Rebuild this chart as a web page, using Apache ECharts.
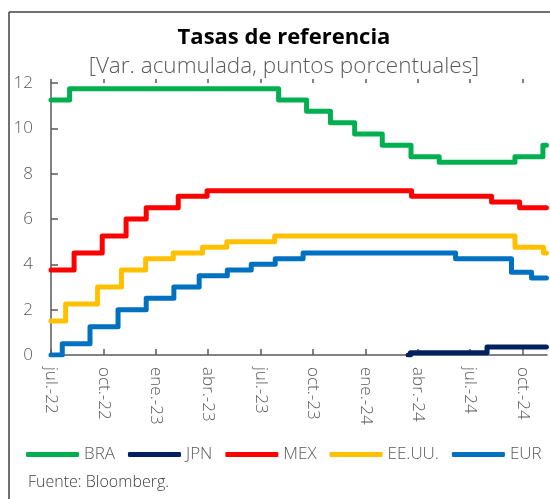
<!DOCTYPE html>
<html lang="es">
<head>
<meta charset="UTF-8">
<title>Tasas de referencia</title>
<script src="https://cdn.jsdelivr.net/npm/echarts@6/dist/echarts.min.js"></script>
<style>
  html, body { margin: 0; padding: 0; background: #fff; }
  #main { width: 550px; height: 499px; }
</style>
</head>
<body>
<div id="main"></div>
<script>
// fechas de cambio de tasa y variación acumulada (pp) desde esa fecha
const braDates = ['2022-07-01', '2022-08-03', '2023-08-02', '2023-09-20', '2023-11-01', '2023-12-13', '2024-01-31', '2024-03-20', '2024-05-08', '2024-09-18', '2024-11-06', '2024-11-12'];
const braValues = [11.25, 11.75, 11.25, 10.75, 10.25, 9.75, 9.25, 8.75, 8.5, 8.75, 9.25, 9.25];

const jpnDates = ['2024-03-15', '2024-03-19', '2024-07-31', '2024-11-12'];
const jpnValues = [0, 0.1, 0.35, 0.35];

const mexDates = ['2022-07-01', '2022-08-11', '2022-09-29', '2022-11-10', '2022-12-15', '2023-02-09', '2023-03-30', '2024-03-21', '2024-08-08', '2024-09-26', '2024-11-12'];
const mexValues = [3.75, 4.5, 5.25, 6.0, 6.5, 7.0, 7.25, 7.0, 6.75, 6.5, 6.5];

const usaDates = ['2022-07-01', '2022-07-27', '2022-09-21', '2022-11-02', '2022-12-14', '2023-02-01', '2023-03-22', '2023-05-03', '2023-07-26', '2024-09-18', '2024-11-07', '2024-11-12'];
const usaValues = [1.5, 2.25, 3.0, 3.75, 4.25, 4.5, 4.75, 5.0, 5.25, 4.75, 4.5, 4.5];

const eurDates = ['2022-07-01', '2022-07-21', '2022-09-08', '2022-10-27', '2022-12-15', '2023-02-02', '2023-03-16', '2023-05-04', '2023-06-15', '2023-07-27', '2023-09-14', '2024-06-06', '2024-09-12', '2024-10-17', '2024-11-12'];
const eurValues = [0, 0.5, 1.25, 2.0, 2.5, 3.0, 3.5, 3.75, 4.0, 4.25, 4.5, 4.25, 3.65, 3.4, 3.4];

const tickMonths = [0, 3, 6, 9, 12, 15, 18, 21, 24, 27];
const tickLabels = ['jul.-22', 'oct.-22', 'ene.-23', 'abr.-23', 'jul.-23', 'oct.-23', 'ene.-24', 'abr.-24', 'jul.-24', 'oct.-24'];

// meses transcurridos desde jul-22
function toMonth(d) {
  const [y, m, day] = d.split('-').map(Number);
  const dim = new Date(y, m, 0).getDate();
  return (y - 2022) * 12 + (m - 7) + (day - 1) / dim;
}
function pairs(dates, values) {
  return dates.map((d, i) => [toMonth(d), values[i]]);
}

const grey = '#595959';
const font = 'Open Sans';

function stepSeries(name, color, data) {
  return {
    name: name,
    type: 'line',
    step: 'end',
    symbol: 'none',
    data: data,
    lineStyle: { color: color, width: 5, cap: 'round', join: 'round' },
    itemStyle: { color: color }
  };
}

const myChart = echarts.init(document.getElementById('main'));
const option = {
  animation: false,
  textStyle: { fontFamily: font },
  grid: { left: 51, right: 3, top: 83, bottom: 144 },
  legend: {
    left: 21,
    top: 441,
    icon: 'roundRect',
    itemWidth: 53,
    itemHeight: 5,
    itemGap: 13,
    textStyle: { fontSize: 17, color: grey, fontFamily: font, fontWeight: 300 },
    data: ['BRA', 'JPN', 'MEX', 'EE.UU.', 'EUR']
  },
  xAxis: [{
    type: 'value',
    min: 0,
    max: 28.4,
    interval: 3,
    axisLine: { show: true, lineStyle: { color: grey, width: 1.5 } },
    axisTick: { show: true, inside: true, length: 6, customValues: tickMonths, lineStyle: { color: grey, width: 1.5 } },
    axisLabel: {
      rotate: -90,
      margin: 12,
      fontSize: 17,
      fontWeight: 300,
      color: grey,
      customValues: tickMonths,
      formatter: function (v) {
        const i = tickMonths.indexOf(Math.round(v));
        return i >= 0 ? tickLabels[i] : '';
      }
    },
    splitLine: { show: false }
  }, {
    type: 'value',
    min: 0,
    max: 28.4,
    interval: 3,
    axisLine: { show: false },
    axisTick: { show: true, inside: false, length: 4, customValues: tickMonths, lineStyle: { color: grey, width: 1.5 } },
    axisLabel: { show: false },
    splitLine: { show: false }
  }],
  yAxis: {
    type: 'value',
    min: 0,
    max: 12,
    interval: 2,
    axisLine: { show: true, lineStyle: { color: grey, width: 1.5 } },
    axisTick: { show: true, inside: true, length: 7, lineStyle: { color: grey, width: 1.5 } },
    axisLabel: { fontSize: 17, fontWeight: 300, color: grey, margin: 18 },
    splitLine: { show: false }
  },
  graphic: [
    { type: 'line', shape: { x1: 9, y1: 12, x2: 560, y2: 12 }, style: { stroke: '#404040', lineWidth: 1.5 } },
    { type: 'line', shape: { x1: 9, y1: 12, x2: 9, y2: 510 }, style: { stroke: '#404040', lineWidth: 1.5 } },
    { type: 'text', x: 284, y: 38, style: { text: 'Tasas de referencia', font: 'bold 22px "Open Sans"', fill: '#000', align: 'center', verticalAlign: 'middle' } },
    { type: 'text', x: 284, y: 67, style: { text: '[Var. acumulada, puntos porcentuales]', font: '300 22.5px "Open Sans"', fill: grey, align: 'center', verticalAlign: 'middle' } },
    { type: 'text', x: 28, y: 482, style: { text: 'Fuente: Bloomberg.', font: '300 16px "Open Sans"', fill: '#404040', align: 'left', verticalAlign: 'middle' } }
  ],
  series: [
    stepSeries('BRA', '#00B050', pairs(braDates, braValues)),
    stepSeries('JPN', '#002060', pairs(jpnDates, jpnValues)),
    stepSeries('MEX', '#FF0000', pairs(mexDates, mexValues)),
    stepSeries('EE.UU.', '#FFC000', pairs(usaDates, usaValues)),
    stepSeries('EUR', '#0070C0', pairs(eurDates, eurValues))
  ]
};
myChart.setOption(option);
</script>
</body>
</html>
